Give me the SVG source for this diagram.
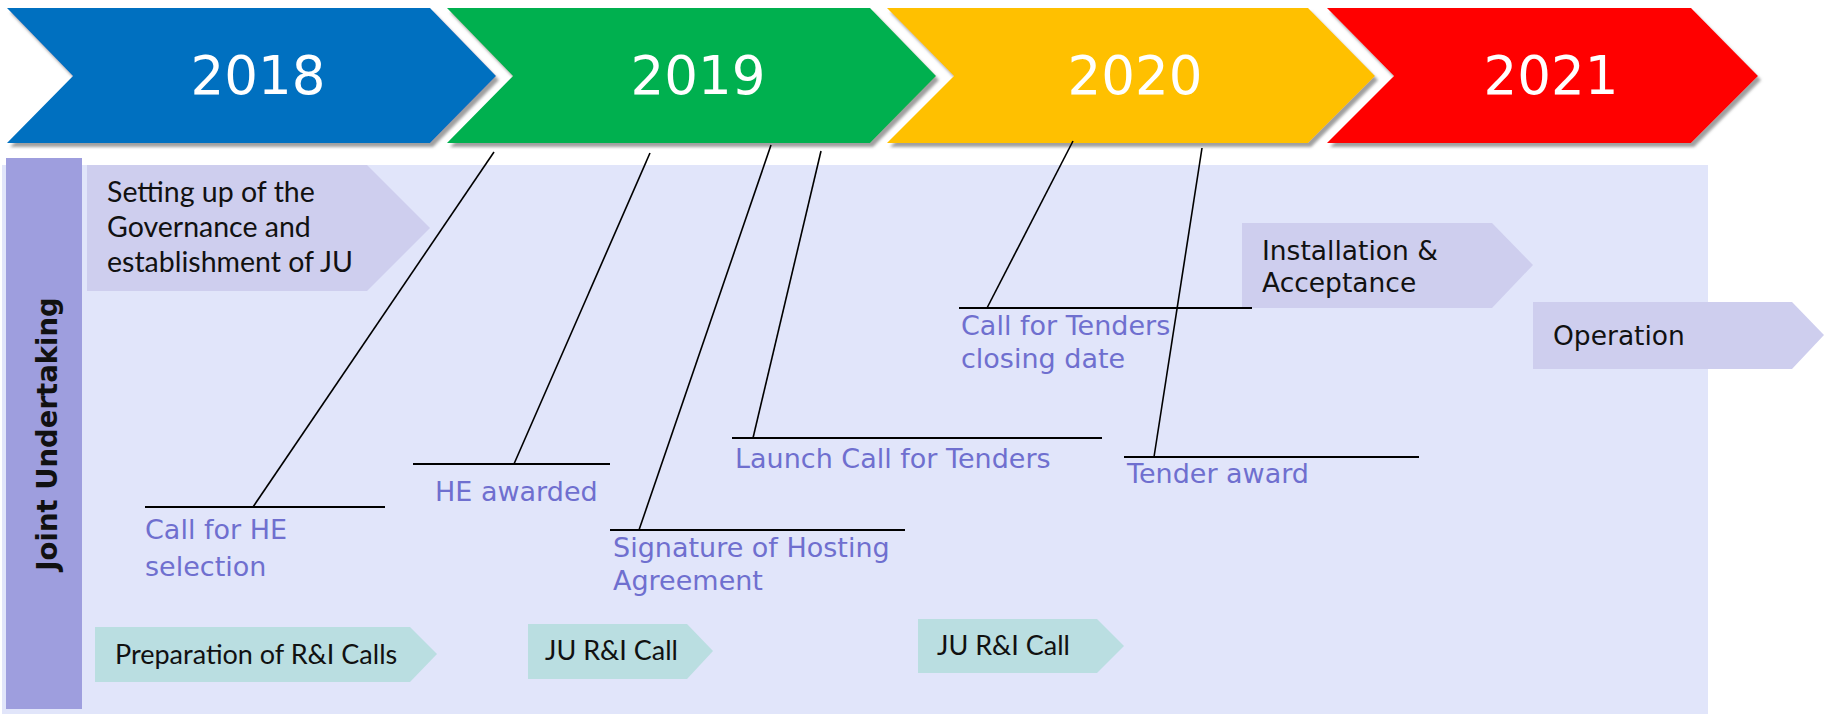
<svg xmlns="http://www.w3.org/2000/svg" width="1825" height="714" viewBox="0 0 1825 714">
<defs>
<filter id="sh" x="-5%" y="-10%" width="115%" height="130%">
<feDropShadow dx="3" dy="4" stdDeviation="1.5" flood-color="#777" flood-opacity="0.7"/>
</filter>
</defs>
<style>
.year{font-family:"DejaVu Sans",Verdana,sans-serif;font-size:53px;fill:#fff;text-anchor:middle}
.lbl{font-family:"DejaVu Sans",Verdana,sans-serif;font-size:27px;fill:#6F6FCF}
.blk{font-family:"DejaVu Sans",Verdana,sans-serif;font-size:26.5px;fill:#111}
.cal{font-family:Lato,"Open Sans",sans-serif;font-size:28.5px;fill:#111}
.cal2{font-family:Lato,"Open Sans",sans-serif;font-size:27px;fill:#111}
.lav{fill:#CECEEE}
.teal{fill:#BADEE1}
.conn line{stroke:#000;stroke-width:1.6}
.conn line.h{stroke-width:2.2}
</style>
<rect x="0" y="0" width="1825" height="714" fill="#fff"/>
<g id="panel">
<rect x="2" y="165" width="1706" height="549" fill="#E1E5FA"/>
<rect x="6" y="158" width="76" height="551" fill="#9E9EDE"/>
<text transform="translate(57,434) rotate(-90)" text-anchor="middle" style="font-family:'DejaVu Sans',Verdana,sans-serif;font-size:27.5px;font-weight:bold;fill:#111">Joint Undertaking</text>
</g>
<g id="y2018" filter="url(#sh)">
<polygon points="7,8 430,8 496,76 430,143 7,143 73,76" fill="#0070C0"/>
<text class="year" x="258" y="94">2018</text>
</g>
<g id="y2019" filter="url(#sh)">
<polygon points="447,8 870,8 936,76 870,143 447,143 513,76" fill="#00B050"/>
<text class="year" x="698" y="94">2019</text>
</g>
<g id="y2020" filter="url(#sh)">
<polygon points="887,8 1308,8 1375,76 1308,143 887,143 954,76" fill="#FFC000"/>
<text class="year" x="1135" y="94">2020</text>
</g>
<g id="y2021" filter="url(#sh)">
<polygon points="1327,8 1691,8 1758,76 1691,143 1327,143 1394,76" fill="#FF0000"/>
<text class="year" x="1551" y="94">2021</text>
</g>
<g id="setup">
<polygon class="lav" points="87,165 367,165 430,228 367,291 87,291"/>
<text class="cal" x="107" y="202">Setting up of the</text>
<text class="cal" x="107" y="237">Governance and</text>
<text class="cal" x="107" y="272">establishment of JU</text>
</g>
<g id="install">
<polygon class="lav" points="1242,223 1492,223 1533,265 1492,308 1242,308"/>
<text class="blk" x="1262" y="260">Installation &amp;</text>
<text class="blk" x="1262" y="292">Acceptance</text>
</g>
<g id="operation">
<polygon class="lav" points="1533,302 1792,302 1824,335 1792,369 1533,369"/>
<text class="blk" x="1553" y="345">Operation</text>
</g>
<g id="prep">
<polygon class="teal" points="95,627 410,627 437,654 410,682 95,682"/>
<text class="cal2" x="115" y="664">Preparation of R&amp;I Calls</text>
</g>
<g id="call1">
<polygon class="teal" points="528,624 687,624 713,651 687,679 528,679"/>
<text class="cal2" x="545" y="660">JU R&amp;I Call</text>
</g>
<g id="call2">
<polygon class="teal" points="918,619 1097,619 1124,646 1097,673 918,673"/>
<text class="cal2" x="937" y="655">JU R&amp;I Call</text>
</g>
<g id="connectors" class="conn">
<line x1="494" y1="152" x2="253" y2="507"/>
<line class="h" x1="145" y1="507" x2="385" y2="507"/>
<line x1="650" y1="153" x2="514" y2="464"/>
<line class="h" x1="413" y1="464" x2="610" y2="464"/>
<line x1="771" y1="145" x2="639" y2="530"/>
<line class="h" x1="610" y1="530" x2="905" y2="530"/>
<line x1="821" y1="151" x2="753" y2="438"/>
<line class="h" x1="732" y1="438" x2="1102" y2="438"/>
<line x1="1073" y1="141" x2="987" y2="308"/>
<line class="h" x1="959" y1="308" x2="1252" y2="308"/>
<line x1="1202" y1="148" x2="1154" y2="457"/>
<line class="h" x1="1124" y1="457" x2="1419" y2="457"/>
</g>
<g id="labels">
<text class="lbl" x="145" y="539">Call for HE</text>
<text class="lbl" x="145" y="576">selection</text>
<text class="lbl" x="435" y="501">HE awarded</text>
<text class="lbl" x="613" y="557">Signature of Hosting</text>
<text class="lbl" x="613" y="590">Agreement</text>
<text class="lbl" x="735" y="468">Launch Call for Tenders</text>
<text class="lbl" x="961" y="335">Call for Tenders</text>
<text class="lbl" x="961" y="368">closing date</text>
<text class="lbl" x="1127" y="483">Tender award</text>
</g>
</svg>
